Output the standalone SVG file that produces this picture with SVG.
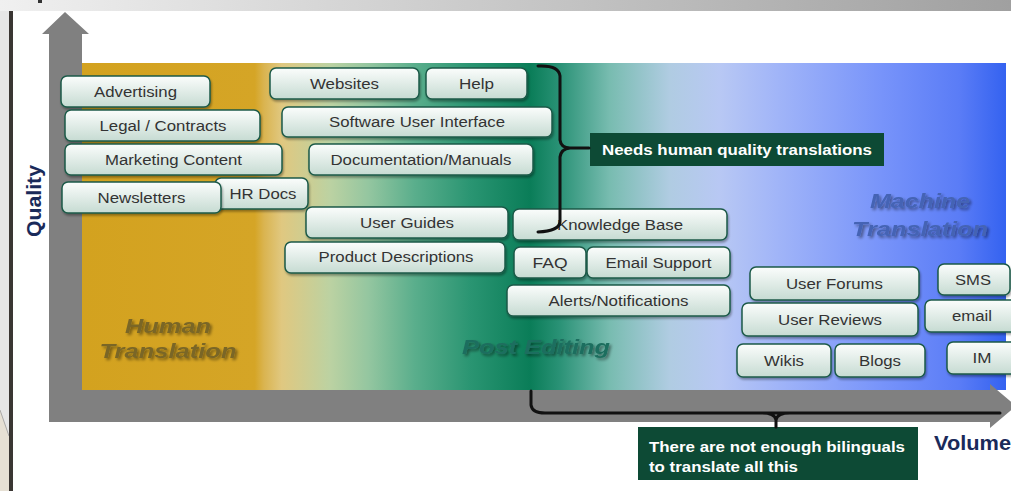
<svg xmlns="http://www.w3.org/2000/svg" width="1011" height="491" viewBox="0 0 1011 491">
<defs>
<linearGradient id="topband" x1="0" y1="0" x2="1" y2="0">
<stop offset="0" stop-color="#f0f0f0"/>
<stop offset="1" stop-color="#a0a0a0"/>
</linearGradient>
<linearGradient id="bg" gradientUnits="userSpaceOnUse" x1="82" y1="0" x2="1006" y2="0">
<stop offset="0" stop-color="#d3a21f"/>
<stop offset="0.187" stop-color="#d5a526"/>
<stop offset="0.197" stop-color="#dab450"/>
<stop offset="0.216" stop-color="#e0c880"/>
<stop offset="0.268" stop-color="#bcd2a2"/>
<stop offset="0.31" stop-color="#94c6a0"/>
<stop offset="0.36" stop-color="#5aae8c"/>
<stop offset="0.42" stop-color="#2a9572"/>
<stop offset="0.485" stop-color="#0a7d58"/>
<stop offset="0.517" stop-color="#2a9276"/>
<stop offset="0.571" stop-color="#78bcb0"/>
<stop offset="0.636" stop-color="#b0cce2"/>
<stop offset="0.69" stop-color="#b8c8f4"/>
<stop offset="0.755" stop-color="#a0b4f8"/>
<stop offset="0.864" stop-color="#7894fa"/>
<stop offset="0.95" stop-color="#5a7cf6"/>
<stop offset="1" stop-color="#3462f0"/>
</linearGradient>
<linearGradient id="boxg" x1="0" y1="0" x2="0" y2="1">
<stop offset="0" stop-color="#fbfdfc"/>
<stop offset="1" stop-color="#c6dbd2"/>
</linearGradient>
<filter id="shadow" x="-10%" y="-20%" width="120%" height="150%">
<feDropShadow dx="1" dy="2" stdDeviation="1.2" flood-color="#000" flood-opacity="0.35"/>
</filter>
<filter id="soft" x="-10%" y="-30%" width="120%" height="160%">
<feGaussianBlur in="SourceGraphic" stdDeviation="0.7" result="b"/>
<feGaussianBlur in="SourceAlpha" stdDeviation="1.5" result="s"/>
<feOffset in="s" dx="2" dy="2" result="so"/>
<feComponentTransfer in="so" result="sf"><feFuncA type="linear" slope="0.45"/></feComponentTransfer>
<feMerge><feMergeNode in="sf"/><feMergeNode in="b"/></feMerge>
</filter>
<style>
.box rect{fill:url(#boxg);stroke:#1d5a48;stroke-width:1.5;filter:url(#shadow)}
.box text{font-family:"Liberation Sans",Arial,sans-serif;font-size:14px;fill:#333;text-anchor:middle}
.note rect{fill:#0d4a35}
.note text{font-family:"Liberation Sans",Arial,sans-serif;font-size:14px;font-weight:bold;fill:#fff}
.zone{font-family:"Liberation Sans",Arial,sans-serif;font-size:20px;font-weight:bold;font-style:italic;text-anchor:middle;filter:url(#soft)}
.axislbl{font-family:"Liberation Sans",Arial,sans-serif;font-size:20px;font-weight:bold;fill:#1a2a5a}
.brace{fill:none;stroke:#111;stroke-width:3;stroke-linecap:round;stroke-linejoin:round}
</style>
</defs>

<!-- page background -->
<rect x="0" y="0" width="1011" height="491" fill="#fff"/>
<rect x="0" y="0" width="1011" height="11" fill="url(#topband)"/>
<rect x="38" y="0" width="4" height="3" fill="#333"/>
<rect x="0" y="11" width="9" height="480" fill="#e6e6e6"/>
<polygon points="0,410 9,436 9,491 0,491" fill="#e6e0d4"/>
<line x1="0" y1="410" x2="9" y2="436" stroke="#9a9a9a" stroke-width="0.8"/>
<rect x="9" y="11" width="4" height="480" fill="#3a3633"/>

<!-- chart area -->
<rect x="82" y="63" width="924" height="327" fill="url(#bg)"/>
<path d="M49,422 L49,34 L42,34 L65,12 L89,34 L82,34 L82,390 L990,390 L990,384 L1016,406 L990,428 L990,422 Z" fill="#808080"/>

<!-- zone labels -->
<g id="zone-human">
<text class="zone" x="168" y="333" fill="#7a6626" textLength="86" lengthAdjust="spacingAndGlyphs">Human</text>
<text class="zone" x="168" y="358" fill="#7a6626" textLength="137" lengthAdjust="spacingAndGlyphs">Translation</text>
</g>
<g id="zone-post">
<text class="zone" x="536" y="354" fill="#1f6e5e" textLength="148" lengthAdjust="spacingAndGlyphs">Post Editing</text>
</g>
<g id="zone-machine">
<text class="zone" x="920" y="208" fill="#4464b4" textLength="100" lengthAdjust="spacingAndGlyphs">Machine</text>
<text class="zone" x="920" y="236" fill="#4464b4" textLength="136" lengthAdjust="spacingAndGlyphs">Translation</text>
</g>

<!-- axis labels -->
<text class="axislbl" transform="translate(41,201) rotate(-90)" text-anchor="middle" textLength="72" lengthAdjust="spacingAndGlyphs">Quality</text>
<text class="axislbl" x="934" y="450" textLength="77" lengthAdjust="spacingAndGlyphs">Volume</text>

<!-- nodes -->
<g id="n-advertising" class="box"><rect x="61" y="76" width="149" height="31" rx="6"/><text x="135.5" y="96.5" textLength="83" lengthAdjust="spacingAndGlyphs">Advertising</text></g>
<g id="n-legal" class="box"><rect x="65" y="110" width="195" height="31" rx="6"/><text x="163" y="130.5" textLength="127" lengthAdjust="spacingAndGlyphs">Legal / Contracts</text></g>
<g id="n-marketing" class="box"><rect x="65" y="144" width="217" height="31" rx="6"/><text x="173.5" y="164.5" textLength="137" lengthAdjust="spacingAndGlyphs">Marketing Content</text></g>
<g id="n-hrdocs" class="box"><rect x="215" y="178" width="93" height="31" rx="6"/><text x="263" y="198.5" textLength="67" lengthAdjust="spacingAndGlyphs">HR Docs</text></g>
<g id="n-newsletters" class="box"><rect x="62" y="182" width="159" height="31" rx="6"/><text x="141.5" y="202.5" textLength="88" lengthAdjust="spacingAndGlyphs">Newsletters</text></g>
<g id="n-websites" class="box"><rect x="270" y="68" width="149" height="31" rx="6"/><text x="344.5" y="88.5" textLength="69" lengthAdjust="spacingAndGlyphs">Websites</text></g>
<g id="n-help" class="box"><rect x="426" y="68" width="101" height="31" rx="6"/><text x="476.5" y="88.5" textLength="35" lengthAdjust="spacingAndGlyphs">Help</text></g>
<g id="n-software" class="box"><rect x="282" y="107" width="270" height="30" rx="6"/><text x="417" y="127" textLength="176" lengthAdjust="spacingAndGlyphs">Software User Interface</text></g>
<g id="n-documentation" class="box"><rect x="309" y="144" width="224" height="31" rx="6"/><text x="421" y="164.5" textLength="181" lengthAdjust="spacingAndGlyphs">Documentation/Manuals</text></g>
<g id="n-userguides" class="box"><rect x="306" y="207" width="202" height="31" rx="6"/><text x="407" y="227.5" textLength="94" lengthAdjust="spacingAndGlyphs">User Guides</text></g>
<g id="n-product" class="box"><rect x="285" y="242" width="220" height="31" rx="6"/><text x="396" y="262" textLength="155" lengthAdjust="spacingAndGlyphs">Product Descriptions</text></g>
<g id="n-knowledge" class="box"><rect x="513" y="209" width="214" height="31" rx="6"/><text x="620" y="229.5" textLength="126" lengthAdjust="spacingAndGlyphs">Knowledge Base</text></g>
<g id="n-faq" class="box"><rect x="514" y="247" width="72" height="31" rx="6"/><text x="550" y="267.5" textLength="35" lengthAdjust="spacingAndGlyphs">FAQ</text></g>
<g id="n-email-support" class="box"><rect x="587" y="247" width="143" height="31" rx="6"/><text x="658.5" y="267.5" textLength="106" lengthAdjust="spacingAndGlyphs">Email Support</text></g>
<g id="n-alerts" class="box"><rect x="507" y="285" width="223" height="31" rx="6"/><text x="618.5" y="305.5" textLength="140" lengthAdjust="spacingAndGlyphs">Alerts/Notifications</text></g>
<g id="n-userforums" class="box"><rect x="750" y="267" width="169" height="33" rx="6"/><text x="834.5" y="288.5" textLength="97" lengthAdjust="spacingAndGlyphs">User Forums</text></g>
<g id="n-userreviews" class="box"><rect x="742" y="303" width="176" height="33" rx="6"/><text x="830" y="324.5" textLength="104" lengthAdjust="spacingAndGlyphs">User Reviews</text></g>
<g id="n-wikis" class="box"><rect x="737" y="344" width="94" height="33" rx="6"/><text x="784" y="365.5" textLength="40" lengthAdjust="spacingAndGlyphs">Wikis</text></g>
<g id="n-blogs" class="box"><rect x="835" y="344" width="90" height="33" rx="6"/><text x="880" y="365.5" textLength="42" lengthAdjust="spacingAndGlyphs">Blogs</text></g>
<g id="n-sms" class="box"><rect x="938" y="264" width="72" height="31" rx="6"/><text x="973" y="284.5" textLength="36" lengthAdjust="spacingAndGlyphs">SMS</text></g>
<g id="n-email" class="box"><rect x="925" y="300" width="100" height="32" rx="6"/><text x="972" y="321" textLength="40" lengthAdjust="spacingAndGlyphs">email</text></g>
<g id="n-im" class="box"><rect x="947" y="342" width="80" height="32" rx="6"/><text x="982" y="363" textLength="19" lengthAdjust="spacingAndGlyphs">IM</text></g>

<!-- callout notes -->
<g id="n-needs" class="note"><rect x="590" y="133" width="294" height="33"/><text x="602" y="155" textLength="270" lengthAdjust="spacingAndGlyphs">Needs human quality translations</text></g>
<g id="n-bilinguals" class="note"><rect x="638" y="427" width="280" height="53"/><text x="649" y="452" textLength="256" lengthAdjust="spacingAndGlyphs">There are not enough bilinguals</text><text x="649" y="472" textLength="149" lengthAdjust="spacingAndGlyphs">to translate all this</text></g>

<!-- connectors (braces) -->
<g id="connectors">
<path class="brace" d="M538,66 Q559,65 560,76 L560,140 Q561,148 570,148 L589,148 M570,148 Q561,149 560,157 L560,222 Q559,231 538,232"/>
<path class="brace" d="M531,391 L531,405 Q532,413 545,413 L1000,413 M762,413 Q775,413 776,420 L776,427 M790,413 Q777,413 776,420"/>
</g>
</svg>
